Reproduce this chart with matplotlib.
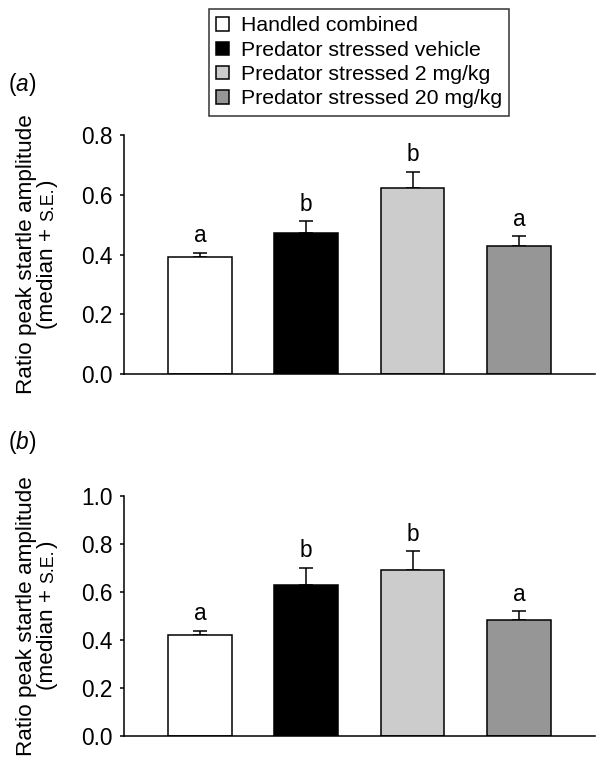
import matplotlib
matplotlib.use("Agg")
import matplotlib.pyplot as plt
from matplotlib.patches import Patch
import numpy as np

plt.rcParams['font.family'] = ['Liberation Sans', 'DejaVu Sans']
plt.rcParams['mathtext.fontset'] = 'custom'
plt.rcParams['mathtext.rm'] = 'Liberation Sans'
plt.rcParams['mathtext.it'] = 'Liberation Sans:italic'

groups = ['Handled combined', 'Predator stressed vehicle',
          'Predator stressed 2 mg/kg', 'Predator stressed 20 mg/kg']
colors = ['#ffffff', '#000000', '#cccccc', '#969696']

a_median = [0.390, 0.472, 0.624, 0.427]
a_err = [0.016, 0.039, 0.053, 0.034]
a_letters = ['a', 'b', 'b', 'a']

b_median = [0.420, 0.629, 0.693, 0.485]
b_err = [0.019, 0.073, 0.076, 0.035]
b_letters = ['a', 'b', 'b', 'a']

a_ticks = [0.0, 0.2, 0.4, 0.6, 0.8]
b_ticks = [0.0, 0.2, 0.4, 0.6, 0.8, 1.0]

ylab1 = 'Ratio peak startle amplitude'
ylab2 = ['(median + ', 'S.E.', ')']

W, H = 604, 768
fig = plt.figure(figsize=(W / 100, H / 100), dpi=100)
renderer = fig.canvas.get_renderer()

FS = 16.3
YFS = 16.2
SCFS = 12.8
LW = 1.1


def text_len(s, size):
    t = fig.text(0, 0, s, fontsize=size, rotation=90)
    h = t.get_window_extent(renderer).height
    t.remove()
    return h


def ylabel(center_y_px):
    # first line
    fig.text(32 / W, 1 - center_y_px / H, ylab1, rotation=90, rotation_mode='anchor',
             ha='center', va='baseline', fontsize=YFS)
    # second line with small caps S.E.
    w0 = text_len(ylab2[0] + 'x', YFS) - text_len('x', YFS)
    w1 = text_len(ylab2[1], SCFS)
    w2 = text_len(ylab2[2], YFS)
    total = w0 + w1 + w2
    start = center_y_px + total / 2  # pixel from top, text runs upward
    xb = 53 / W
    fig.text(xb, 1 - start / H, ylab2[0], rotation=90, rotation_mode='anchor',
             ha='left', va='baseline', fontsize=YFS)
    fig.text(xb, 1 - (start - w0) / H, ylab2[1], rotation=90, rotation_mode='anchor',
             ha='left', va='baseline', fontsize=SCFS)
    fig.text(xb, 1 - (start - w0 - w1 - 1) / H, ylab2[2], rotation=90,
             rotation_mode='anchor', ha='left', va='baseline', fontsize=YFS)


def make_panel(rect, med, err, letters, ticks, label, label_y):
    ax = fig.add_axes(rect)
    x = np.arange(len(med))
    ax.bar(x, med, width=0.6, color=colors, edgecolor='black', linewidth=LW, zorder=2)
    ax.errorbar(x, med, yerr=[np.zeros(len(err)), err], fmt='none', ecolor='black',
                elinewidth=LW, capsize=5, capthick=LW, zorder=1)
    for xi, m, e, t in zip(x, med, err, letters):
        ax.annotate(t, (xi, m + e), xytext=(0, 4), textcoords='offset points',
                    ha='center', va='bottom', fontsize=FS)
    ax.set_xlim(-0.715, 3.716)
    ax.set_ylim(0, ticks[-1])
    ax.set_yticks(ticks)
    ax.set_yticklabels([f'{t:.1f}' for t in ticks])
    ax.set_xticks([])
    for s in ['top', 'right']:
        ax.spines[s].set_visible(False)
    for s in ['left', 'bottom']:
        ax.spines[s].set_linewidth(LW)
    ax.tick_params(axis='y', direction='out', length=3.2, width=LW, pad=5, labelsize=FS)
    top_px = H * (1 - rect[1] - rect[3])
    bot_px = H * (1 - rect[1])
    ylabel((top_px + bot_px) / 2)
    fig.text(8 / W, 1 - label_y / H, label, ha='left', va='center', fontsize=FS)
    return ax


left = 124 / W
width = (595 - 124) / W
make_panel([left, 1 - 374 / H, width, (374 - 135) / H], a_median, a_err, a_letters,
           a_ticks, r'($\mathit{a}$)', 85)
make_panel([left, 1 - 736 / H, width, (736 - 496) / H], b_median, b_err, b_letters,
           b_ticks, r'($\mathit{b}$)', 443)

handles = [Patch(facecolor=c, edgecolor='black', linewidth=LW) for c in colors]
leg = fig.legend(handles, groups, loc='upper left', bbox_to_anchor=(209 / W, 1 - 9 / H),
                 borderaxespad=0, fontsize=15.3, frameon=True, fancybox=False,
                 edgecolor='black', labelspacing=0.25, handlelength=0.6,
                 handleheight=0.6, handletextpad=0.55, borderpad=0.35)
leg.get_frame().set_linewidth(LW)

fig.savefig('out.png', dpi=100)
